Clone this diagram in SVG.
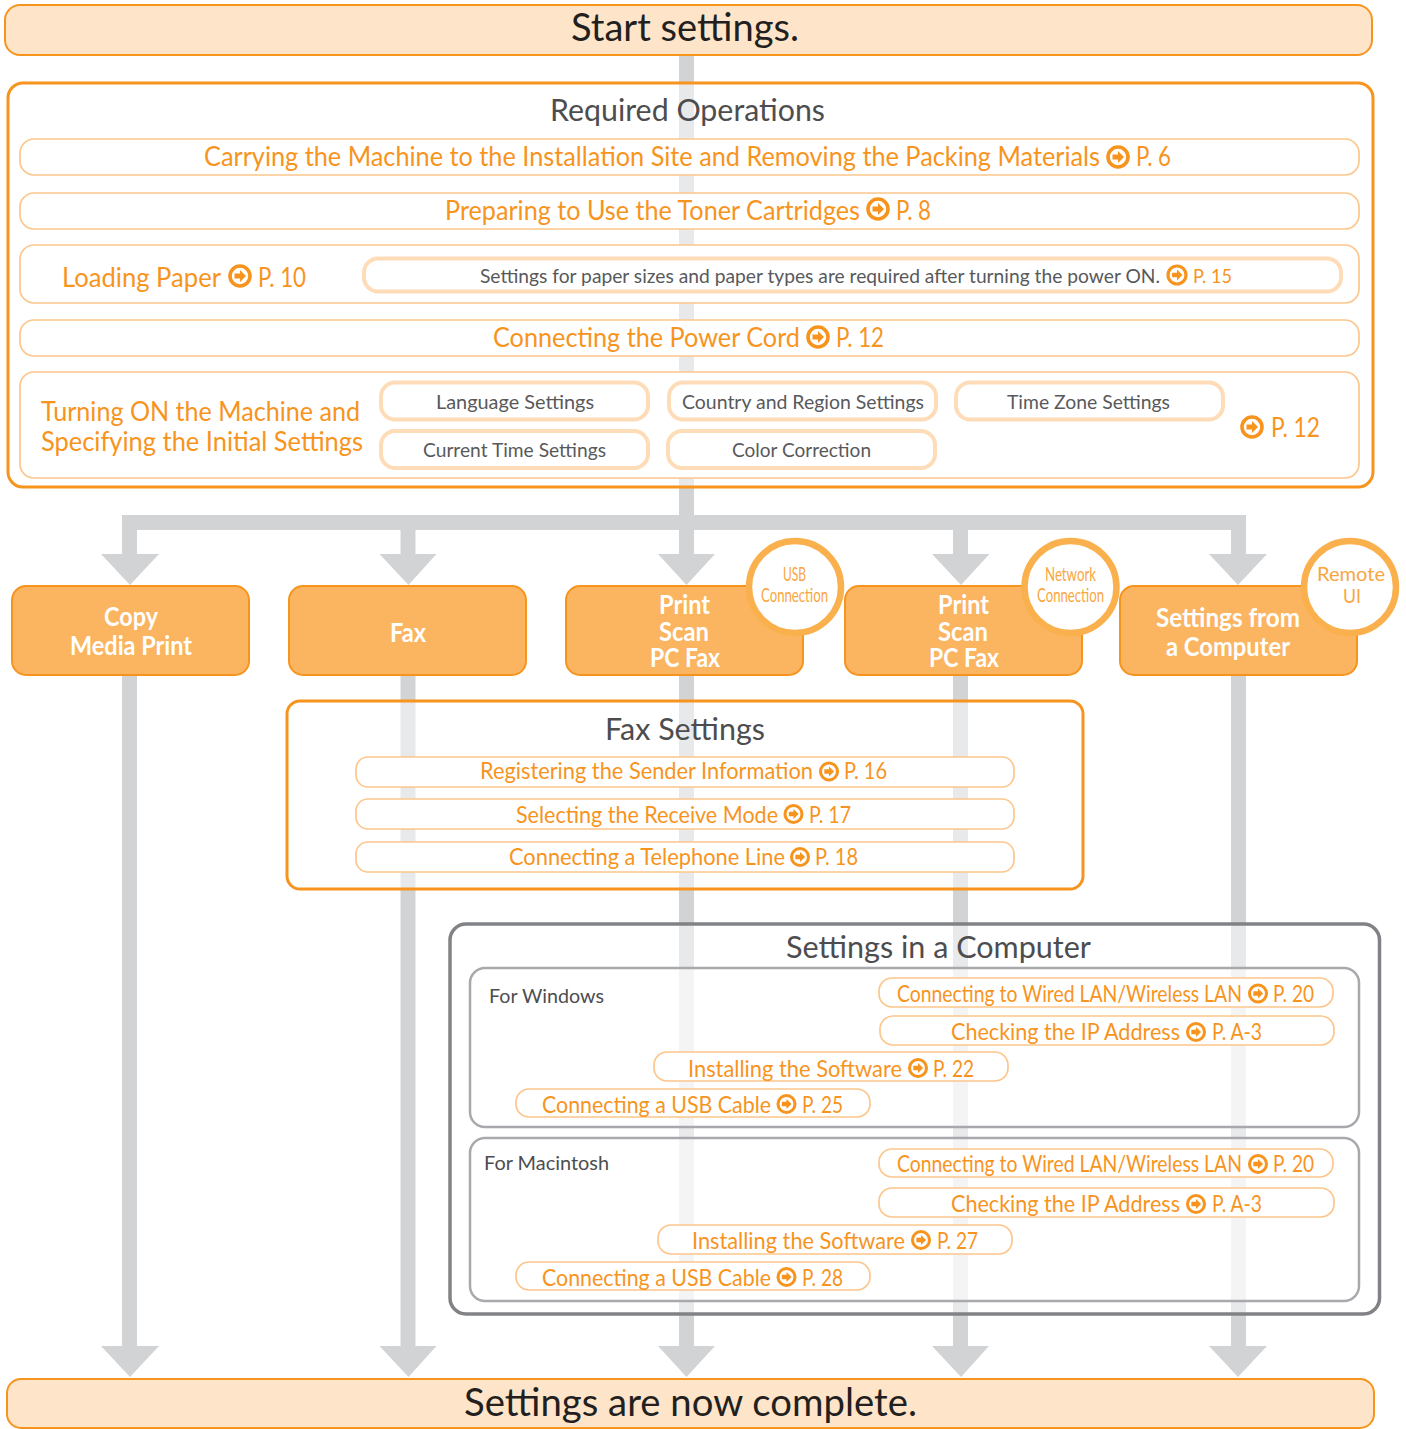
<svg xmlns="http://www.w3.org/2000/svg" width="1406" height="1429" viewBox="0 0 1406 1429">
<style>
text{font-family:Lato,"Open Sans","Liberation Sans",sans-serif}
.o{fill:#f7941e}.d{fill:#4d4d4f}.k{fill:#231f20}.g{fill:#58595b}
.w{fill:#fff;font-weight:700}.c{fill:#f9a63f}
.s38{font-size:38px}.s30{font-size:30px}.s26{font-size:26px}.s23{font-size:23px}.s20{font-size:20px}.s18{font-size:19px}
.s38,.s30,.s26,.s23{transform:translateY(1px)}
.bar{fill:#fee5c9;stroke:#f7941e;stroke-width:2}
.box{fill:#fff;fill-opacity:.5;stroke:#f7941e;stroke-width:3}
.cbox{fill:#fff;fill-opacity:.5;stroke:#808285;stroke-width:3.5}
.ibox{fill:#fff;fill-opacity:.5;stroke:#a7a9ac;stroke-width:2.5}
.row{fill:#fff;stroke:#fdc68c;stroke-width:1.7}
.thick{fill:#fff;stroke:#fedcb8;stroke-width:4}
.node{fill:#fbb460;stroke:#f7941e;stroke-width:2}
.tag{fill:#fff;stroke:#fbb04e;stroke-width:6.5}
.line{fill:#d1d3d4}
</style>
<defs>
<g id="go"><circle r="10" fill="#fff" stroke="#f7941e" stroke-width="3.6"/><path d="M-5.500-2.600H0V-6L6 0 0 6V2.600H-5.500Z" fill="#f7941e"/></g>
</defs>
<g id="connectors">
<rect class="line" x="679" y="55" width="15" height="461"/>
<rect class="line" x="122" y="515" width="1124" height="15"/>
<path class="line" d="M122 515h15v39h22l-29 31-29-31h21z M400.500 530h15v24h21l-28 31-29-31h21z M679 530h15v24h21l-28.500 31-28.500-31h21z M953 530h15v24h21.500l-28.500 31-29-31h21z M1231 530h15v24h21l-29 31-29-31h22z"/>
<path class="line" d="M122 675h15v671h22l-29 31-29-31h21z M400.500 675h15v671h21l-28 31-29-31h21z M679 675h15v671h21l-28.500 31-28.500-31h21z M953 675h15v671h21l-28 31-29-31h21z M1231 675h15v671h21l-29 31-29-31h22z"/>
</g>
<g id="start"><rect class="bar" x="5" y="5" width="1367" height="50" rx="15"/><text class="k s38" x="571" y="40" textLength="228" lengthAdjust="spacingAndGlyphs">Start settings.</text></g>
<g id="required-operations">
<rect class="box" x="8" y="83" width="1365" height="404" rx="15"/>
<text class="d s30" x="550" y="120" textLength="275" lengthAdjust="spacingAndGlyphs">Required Operations</text>
</g>
<g id="carrying"><rect class="row" x="20" y="139" width="1339" height="36" rx="14"/><text class="o s26" x="204" y="165" textLength="896" lengthAdjust="spacingAndGlyphs">Carrying the Machine to the Installation Site and Removing the Packing Materials</text><use href="#go" transform="translate(1118 157)"/><text class="o s26" x="1136" y="165" textLength="35" lengthAdjust="spacingAndGlyphs">P. 6</text></g>
<g id="toner"><rect class="row" x="20" y="193" width="1339" height="36" rx="14"/><text class="o s26" x="445" y="219" textLength="415" lengthAdjust="spacingAndGlyphs">Preparing to Use the Toner Cartridges</text><use href="#go" transform="translate(878 209)"/><text class="o s26" x="896" y="219" textLength="35" lengthAdjust="spacingAndGlyphs">P. 8</text></g>
<g id="paper"><rect class="row" x="20" y="245" width="1339" height="58" rx="14"/><text class="o s26" x="62" y="286" textLength="159" lengthAdjust="spacingAndGlyphs">Loading Paper</text><use href="#go" transform="translate(240 276)"/><text class="o s26" x="258" y="286" textLength="48" lengthAdjust="spacingAndGlyphs">P. 10</text></g>
<g id="paper-note"><rect class="thick" x="364" y="258.500" width="977" height="33" rx="14"/><text class="g s20" x="480" y="283" textLength="680" lengthAdjust="spacingAndGlyphs">Settings for paper sizes and paper types are required after turning the power ON.</text><use href="#go" transform="translate(1177 275) scale(.9)"/><text class="o s20" x="1193" y="283" textLength="39" lengthAdjust="spacingAndGlyphs">P. 15</text></g>
<g id="power"><rect class="row" x="20" y="320" width="1339" height="36" rx="14"/><text class="o s26" x="493" y="346" textLength="307" lengthAdjust="spacingAndGlyphs">Connecting the Power Cord</text><use href="#go" transform="translate(818 337)"/><text class="o s26" x="836" y="346" textLength="48" lengthAdjust="spacingAndGlyphs">P. 12</text></g>
<g id="initial"><rect class="row" x="20" y="372" width="1339" height="106" rx="14"/><text class="o s26" x="41" y="420" textLength="319" lengthAdjust="spacingAndGlyphs">Turning ON the Machine and</text><text class="o s26" x="41" y="450" textLength="322" lengthAdjust="spacingAndGlyphs">Specifying the Initial Settings</text><use href="#go" transform="translate(1252 427)"/><text class="o s26" x="1271" y="436" textLength="49" lengthAdjust="spacingAndGlyphs">P. 12</text></g>
<g id="language"><rect class="thick" x="381" y="382.500" width="267" height="37" rx="14"/><text class="g s20" x="436" y="409" textLength="158" lengthAdjust="spacingAndGlyphs">Language Settings</text></g>
<g id="country"><rect class="thick" x="669" y="382.500" width="267" height="37" rx="14"/><text class="g s20" x="682" y="409" textLength="242" lengthAdjust="spacingAndGlyphs">Country and Region Settings</text></g>
<g id="timezone"><rect class="thick" x="956" y="382.500" width="267" height="37" rx="14"/><text class="g s20" x="1007" y="409" textLength="163" lengthAdjust="spacingAndGlyphs">Time Zone Settings</text></g>
<g id="current-time"><rect class="thick" x="381" y="431" width="267" height="37" rx="14"/><text class="g s20" x="423" y="457" textLength="183" lengthAdjust="spacingAndGlyphs">Current Time Settings</text></g>
<g id="color"><rect class="thick" x="668" y="431" width="267" height="37" rx="14"/><text class="g s20" x="732" y="457" textLength="139" lengthAdjust="spacingAndGlyphs">Color Correction</text></g>
<g id="copy"><rect class="node" x="12" y="586" width="237" height="89" rx="14"/><text class="w s26" x="104" y="625" textLength="54" lengthAdjust="spacingAndGlyphs">Copy</text><text class="w s26" x="70" y="654" textLength="122" lengthAdjust="spacingAndGlyphs">Media Print</text></g>
<g id="fax"><rect class="node" x="289" y="586" width="237" height="89" rx="14"/><text class="w s26" x="390" y="641" textLength="36" lengthAdjust="spacingAndGlyphs">Fax</text></g>
<g id="print-usb"><rect class="node" x="566" y="586" width="237" height="89" rx="14"/><text class="w s26" x="659" y="613" textLength="51" lengthAdjust="spacingAndGlyphs">Print</text><text class="w s26" x="659" y="640" textLength="50" lengthAdjust="spacingAndGlyphs">Scan</text><text class="w s26" x="650" y="666" textLength="70" lengthAdjust="spacingAndGlyphs">PC Fax</text></g>
<g id="usb-tag"><circle class="tag" cx="795" cy="587" r="46"/><text class="c s18" x="783" y="581" textLength="23" lengthAdjust="spacingAndGlyphs">USB</text><text class="c s18" x="761" y="602" textLength="67" lengthAdjust="spacingAndGlyphs">Connection</text></g>
<g id="print-network"><rect class="node" x="845" y="586" width="237" height="89" rx="14"/><text class="w s26" x="938" y="613" textLength="51" lengthAdjust="spacingAndGlyphs">Print</text><text class="w s26" x="938" y="640" textLength="50" lengthAdjust="spacingAndGlyphs">Scan</text><text class="w s26" x="929" y="666" textLength="70" lengthAdjust="spacingAndGlyphs">PC Fax</text></g>
<g id="network-tag"><circle class="tag" cx="1070.500" cy="587" r="46"/><text class="c s18" x="1045" y="581" textLength="51" lengthAdjust="spacingAndGlyphs">Network</text><text class="c s18" x="1037" y="602" textLength="67" lengthAdjust="spacingAndGlyphs">Connection</text></g>
<g id="settings-computer"><rect class="node" x="1120" y="586" width="237" height="89" rx="14"/><text class="w s26" x="1156" y="626" textLength="144" lengthAdjust="spacingAndGlyphs">Settings from</text><text class="w s26" x="1166" y="655" textLength="124" lengthAdjust="spacingAndGlyphs">a Computer</text></g>
<g id="remote-tag"><circle class="tag" cx="1350" cy="587" r="46"/><text class="c s20" x="1317" y="581" textLength="68" lengthAdjust="spacingAndGlyphs">Remote</text><text class="c s20" x="1343" y="603" textLength="18" lengthAdjust="spacingAndGlyphs">UI</text></g>
<g id="fax-settings">
<rect class="box" x="287" y="701" width="796" height="188" rx="13"/>
<text class="d s30" x="605" y="739" textLength="160" lengthAdjust="spacingAndGlyphs">Fax Settings</text>
</g>
<g id="sender"><rect class="row" x="356" y="757" width="658" height="30" rx="12"/><text class="o s23" x="480" y="778" textLength="333" lengthAdjust="spacingAndGlyphs">Registering the Sender Information</text><use href="#go" transform="translate(829 771.500) scale(.85)"/><text class="o s23" x="844" y="778" textLength="43" lengthAdjust="spacingAndGlyphs">P. 16</text></g>
<g id="receive"><rect class="row" x="356" y="799" width="658" height="30" rx="12"/><text class="o s23" x="516" y="822" textLength="262" lengthAdjust="spacingAndGlyphs">Selecting the Receive Mode</text><use href="#go" transform="translate(793.500 814) scale(.85)"/><text class="o s23" x="809" y="822" textLength="42" lengthAdjust="spacingAndGlyphs">P. 17</text></g>
<g id="telephone"><rect class="row" x="356" y="842" width="658" height="30" rx="12"/><text class="o s23" x="509" y="864" textLength="276" lengthAdjust="spacingAndGlyphs">Connecting a Telephone Line</text><use href="#go" transform="translate(800 857) scale(.85)"/><text class="o s23" x="815" y="864" textLength="43" lengthAdjust="spacingAndGlyphs">P. 18</text></g>
<g id="computer-settings">
<rect class="cbox" x="450" y="924" width="929.500" height="390" rx="16"/>
<text class="d s30" x="786" y="957" textLength="305" lengthAdjust="spacingAndGlyphs">Settings in a Computer</text>
</g>
<g id="windows"><rect class="ibox" x="470" y="968" width="889" height="159" rx="15"/><text class="d s20" x="489" y="1003" textLength="115" lengthAdjust="spacingAndGlyphs">For Windows</text></g>
<g id="win-lan"><rect class="row" x="879" y="978" width="454" height="29" rx="13"/><g transform="translate(897 1001) scale(.88 1)"><text class="o s23" x="0" y="0" textLength="392" lengthAdjust="spacingAndGlyphs">Connecting to Wired LAN/Wireless LAN</text></g><use href="#go" transform="translate(1258 993.500) scale(.85)"/><text class="o s23" x="1273" y="1001" textLength="41" lengthAdjust="spacingAndGlyphs">P. 20</text></g>
<g id="win-ip"><rect class="row" x="880" y="1016" width="454" height="29" rx="13"/><text class="o s23" x="951" y="1039" textLength="229" lengthAdjust="spacingAndGlyphs">Checking the IP Address</text><use href="#go" transform="translate(1196 1032) scale(.85)"/><text class="o s23" x="1212" y="1039" textLength="50" lengthAdjust="spacingAndGlyphs">P. A-3</text></g>
<g id="win-software"><rect class="row" x="654" y="1052" width="354" height="29" rx="13"/><text class="o s23" x="688" y="1076" textLength="214" lengthAdjust="spacingAndGlyphs">Installing the Software</text><use href="#go" transform="translate(918 1068) scale(.85)"/><text class="o s23" x="933" y="1076" textLength="41" lengthAdjust="spacingAndGlyphs">P. 22</text></g>
<g id="win-usb"><rect class="row" x="516" y="1089" width="354" height="28" rx="13"/><text class="o s23" x="542" y="1112" textLength="229" lengthAdjust="spacingAndGlyphs">Connecting a USB Cable</text><use href="#go" transform="translate(786.500 1104) scale(.85)"/><text class="o s23" x="802" y="1112" textLength="41" lengthAdjust="spacingAndGlyphs">P. 25</text></g>
<g id="macintosh"><rect class="ibox" x="470" y="1138" width="889" height="163" rx="15"/><text class="d s20" x="484" y="1170" textLength="125" lengthAdjust="spacingAndGlyphs">For Macintosh</text></g>
<g id="mac-lan"><rect class="row" x="879" y="1149" width="454" height="28" rx="13"/><g transform="translate(897 1171) scale(.88 1)"><text class="o s23" x="0" y="0" textLength="392" lengthAdjust="spacingAndGlyphs">Connecting to Wired LAN/Wireless LAN</text></g><use href="#go" transform="translate(1258 1164) scale(.85)"/><text class="o s23" x="1273" y="1171" textLength="41" lengthAdjust="spacingAndGlyphs">P. 20</text></g>
<g id="mac-ip"><rect class="row" x="879" y="1188" width="455" height="29" rx="13"/><text class="o s23" x="951" y="1211" textLength="229" lengthAdjust="spacingAndGlyphs">Checking the IP Address</text><use href="#go" transform="translate(1196 1204) scale(.85)"/><text class="o s23" x="1212" y="1211" textLength="50" lengthAdjust="spacingAndGlyphs">P. A-3</text></g>
<g id="mac-software"><rect class="row" x="658" y="1225" width="354" height="29" rx="13"/><text class="o s23" x="692" y="1248" textLength="213" lengthAdjust="spacingAndGlyphs">Installing the Software</text><use href="#go" transform="translate(921 1240) scale(.85)"/><text class="o s23" x="937" y="1248" textLength="41" lengthAdjust="spacingAndGlyphs">P. 27</text></g>
<g id="mac-usb"><rect class="row" x="516" y="1262" width="354" height="28" rx="13"/><text class="o s23" x="542" y="1285" textLength="229" lengthAdjust="spacingAndGlyphs">Connecting a USB Cable</text><use href="#go" transform="translate(786.500 1277) scale(.85)"/><text class="o s23" x="802" y="1285" textLength="41" lengthAdjust="spacingAndGlyphs">P. 28</text></g>
<g id="complete"><rect class="bar" x="7" y="1379" width="1367" height="49" rx="14"/><text class="k s38" x="464" y="1415" textLength="453" lengthAdjust="spacingAndGlyphs">Settings are now complete.</text></g>
</svg>
